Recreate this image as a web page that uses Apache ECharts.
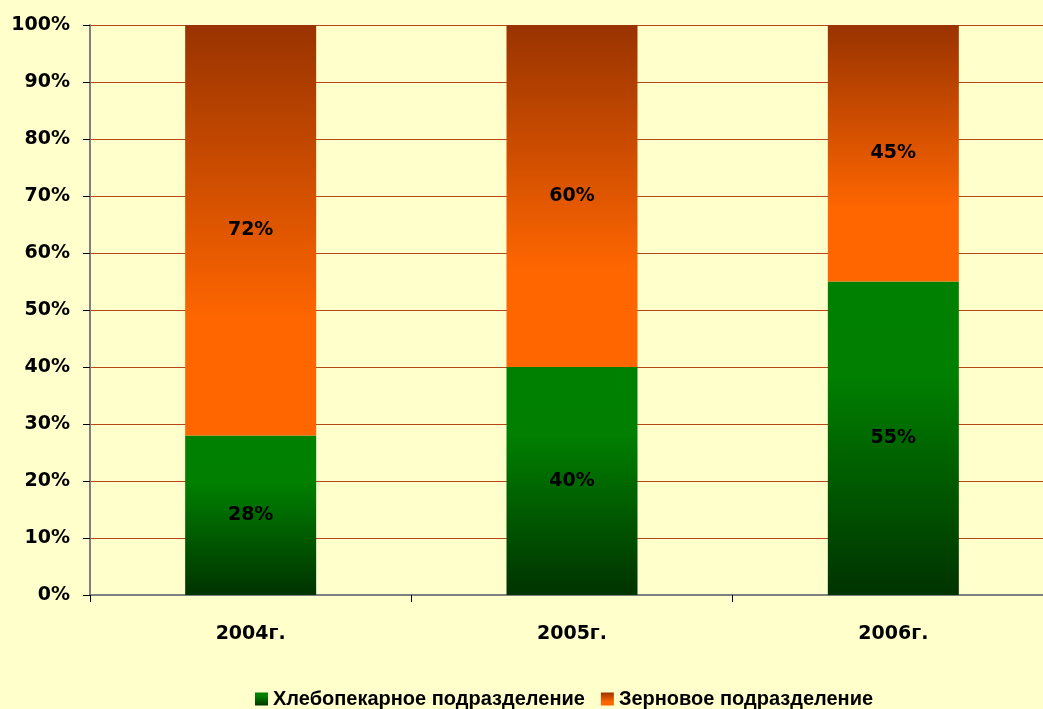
<!DOCTYPE html>
<html>
<head>
<meta charset="utf-8">
<script src="https://cdn.jsdelivr.net/npm/echarts@6/dist/echarts.min.js"></script>
<style>
  html, body { margin: 0; padding: 0; background: #FFFFCC; }
  #chart { width: 1043px; height: 709px; }
</style>
</head>
<body>
<div id="chart"></div>
<script>
var years = ['2004г.', '2005г.', '2006г.']
var bakery = [28, 40, 55]
var grain = [72, 60, 45]
var names = ['Хлебопекарное подразделение', 'Зерновое подразделение']

var myChart = echarts.init(document.getElementById('chart'))

// заливки столбцов
var greenFill = new echarts.graphic.LinearGradient(0, 0, 0, 1, [
  { offset: 0, color: '#008000' },
  { offset: 0.3, color: '#007f00' },
  { offset: 1, color: '#003300' }
])
var orangeFill = new echarts.graphic.LinearGradient(0, 0, 0, 1, [
  { offset: 0, color: '#993300' },
  { offset: 0.72, color: '#FF6600' },
  { offset: 1, color: '#FF6600' }
])

var boldText = { color: '#000', fontFamily: 'DejaVu Sans', fontWeight: 'bold', fontSize: 19 }

var labelStyle = Object.assign({ show: true, position: 'inside', formatter: '{c}%' }, boldText)

var option = {
  backgroundColor: '#FFFFCC',
  animation: false,
  // область графика выходит за правый край
  grid: { left: 90, top: 25, bottom: 114, width: 964, outerBoundsMode: 'none' },
  legend: {
    top: 684,
    left: 250,
    itemWidth: 13,
    itemHeight: 13,
    itemGap: 16,
    icon: 'rect',
    textStyle: { fontFamily: 'Liberation Sans', fontWeight: 'bold', fontSize: 20, color: '#000' },
    data: names
  },
  xAxis: {
    type: 'category',
    data: years,
    axisLine: { lineStyle: { color: '#808080', width: 2 } },
    axisTick: { show: true, length: 7, lineStyle: { color: '#000' } },
    axisLabel: Object.assign({ margin: 30 }, boldText)
  },
  yAxis: {
    type: 'value',
    min: 0,
    max: 100,
    interval: 10,
    axisLine: { show: true, lineStyle: { color: '#808080', width: 2 } },
    axisTick: { show: true, length: 7, lineStyle: { color: '#000' } },
    axisLabel: Object.assign({ margin: 20, formatter: '{value}%' }, boldText),
    splitLine: { lineStyle: { color: '#B8471A', width: 1 } }
  },
  series: [
    {
      name: names[0],
      type: 'bar',
      stack: 'total',
      barWidth: 131,
      data: bakery,
      itemStyle: { color: greenFill },
      label: labelStyle
    },
    {
      name: names[1],
      type: 'bar',
      stack: 'total',
      barWidth: 131,
      data: grain,
      itemStyle: { color: orangeFill },
      label: labelStyle
    }
  ]
}

myChart.setOption(option)
</script>
</body>
</html>
